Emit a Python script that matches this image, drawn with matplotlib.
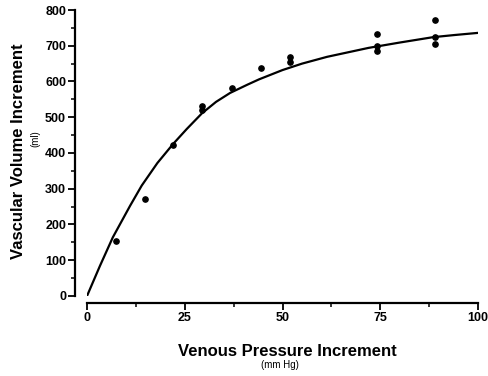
import matplotlib.pyplot as plt
from matplotlib.ticker import MultipleLocator

plt.rcParams['font.family'] = ['Liberation Sans', 'DejaVu Sans']

# measured increments (mm Hg vs ml)
pressure = [7.3, 14.8, 22.1, 29.5, 29.5, 37, 44.4, 51.9, 51.9,
            74.2, 74.2, 74.2, 89, 89, 89]
volume = [154, 271, 422, 532, 520, 581, 637, 668, 655,
          732, 700, 685, 772, 724, 705]

# fitted pressure-volume curve
fit_p = [0, 3.3, 6.6, 9, 11, 14, 18, 22, 25.5, 29.4, 33, 36.6, 41, 44,
         50, 55, 61.4, 72, 80, 88.5, 94, 100]
fit_v = [0, 84, 164, 212, 252, 309, 372, 425, 467, 511, 543, 568, 591,
         606, 632, 650, 669, 694, 709, 724, 730, 736]

fig = plt.figure(figsize=(4.88, 3.76), dpi=100)
ax = fig.add_axes([0.1783, 0.2128, 0.8012, 0.7606])

ax.plot(fit_p, fit_v, color='black', lw=1.6, solid_joinstyle='round')
ax.plot(pressure, volume, 'o', color='black', ms=3.8)

ax.set_xlim(0, 100)
ax.set_ylim(0, 800)
ax.spines['top'].set_visible(False)
ax.spines['right'].set_visible(False)
ax.spines['left'].set_position(('outward', 8.6))
ax.spines['bottom'].set_position(('outward', 5))
ax.spines['left'].set_linewidth(1.6)
ax.spines['bottom'].set_linewidth(1.6)

ax.xaxis.set_major_locator(MultipleLocator(25))
ax.xaxis.set_minor_locator(MultipleLocator(12.5))
ax.yaxis.set_major_locator(MultipleLocator(100))
ax.yaxis.set_minor_locator(MultipleLocator(50))
ax.tick_params(which='major', length=5, width=1.3, pad=1.5,
               labelsize=9)
ax.tick_params(which='minor', length=3, width=1.1)
for lab in ax.get_xticklabels() + ax.get_yticklabels():
    lab.set_fontweight('bold')

fig.text(0.037, 0.598, 'Vascular Volume Increment', rotation=90,
         ha='center', va='center', fontsize=12, fontweight='bold')
fig.text(0.072, 0.63, '(ml)', rotation=90, ha='center', va='center',
         fontsize=7)
fig.text(0.588, 0.066, 'Venous Pressure Increment', ha='center',
         va='center', fontsize=12, fontweight='bold')
fig.text(0.574, 0.028, '(mm Hg)', ha='center', va='center', fontsize=7)

fig.savefig('out.png', dpi=100)
